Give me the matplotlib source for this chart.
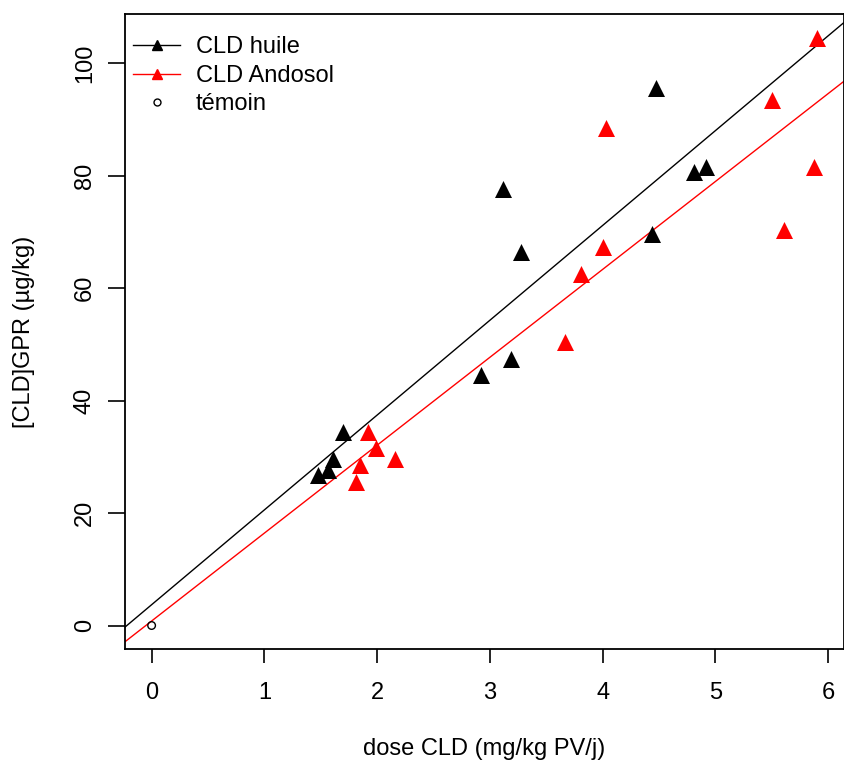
import numpy as np
import matplotlib.pyplot as plt
from matplotlib.lines import Line2D

plt.rcParams['font.family'] = ['Liberation Sans', 'DejaVu Sans']

# CLD huile (black)
huile_dose = [1.48, 1.56, 1.61, 1.70, 2.92, 3.19, 3.12, 3.28, 4.47, 4.44, 4.81, 4.92]
huile_gpr = [26.7, 27.6, 29.7, 34.5, 44.5, 47.5, 77.7, 66.5, 95.6, 69.6, 80.7, 81.6]

# CLD Andosol (red)
ando_dose = [1.81, 1.85, 1.92, 1.99, 2.16, 3.67, 3.81, 4.00, 4.03, 5.50, 5.61, 5.87, 5.90]
ando_gpr = [25.5, 28.5, 34.5, 31.5, 29.7, 50.4, 62.5, 67.4, 88.5, 93.5, 70.4, 81.6, 104.6]

# témoin
temoin_dose = [0.0]
temoin_gpr = [0.0]

# regression lines (intercept, slope)
huile_fit = (3.7, 16.87)
ando_fit = (0.8, 15.64)

fig = plt.figure(figsize=(8.44, 7.65), dpi=100)
ax = fig.add_axes([125 / 844, 1 - 649 / 765, (843.5 - 125) / 844, (649 - 14) / 765])

ax.scatter(huile_dose, huile_gpr, marker='^', s=150, color='black', linewidths=0, zorder=3)
ax.scatter(ando_dose, ando_gpr, marker='^', s=150, color='red', linewidths=0, zorder=3)
ax.scatter(temoin_dose, temoin_gpr, marker='o', s=30, facecolors='none',
           edgecolors='black', linewidths=1, zorder=3)

xmin, xmax = -0.236, 6.136
ymin, ymax = -4.18, 108.8
xx = np.array([xmin, xmax])
ax.plot(xx, huile_fit[0] + huile_fit[1] * xx, color='black', lw=1)
ax.plot(xx, ando_fit[0] + ando_fit[1] * xx, color='red', lw=1)

ax.set_xlim(xmin, xmax)
ax.set_ylim(ymin, ymax)
ax.set_xticks(range(0, 7))
ax.set_yticks(range(0, 101, 20))
ax.tick_params(axis='x', length=10, width=1.2, labelsize=17, pad=14)
ax.tick_params(axis='y', length=12, width=1.2, labelsize=17, pad=9)
for lab in ax.get_yticklabels():
    lab.set_rotation(90)
    lab.set_va('center')
for sp in ax.spines.values():
    sp.set_linewidth(1.3)

ax.set_xlabel('dose CLD (mg/kg PV/j)', fontsize=17, labelpad=24)
ax.set_ylabel('[CLD]GPR (µg/kg)', fontsize=17, labelpad=28)

handles = [
    Line2D([0], [0], color='black', lw=1, marker='^', markersize=7),
    Line2D([0], [0], color='red', lw=1, marker='^', markersize=7),
    Line2D([0], [0], color='black', lw=0, marker='o', markersize=5,
           markerfacecolor='none'),
]
ax.legend(handles, ['CLD huile', 'CLD Andosol', 'témoin'], loc='upper left',
          frameon=False, fontsize=17, handlelength=2.0, handletextpad=0.64,
          labelspacing=0.28, borderaxespad=0, borderpad=0.35,
          bbox_to_anchor=(0.0, 1 - 14 / 635))

fig.savefig('out.png', dpi=100)
